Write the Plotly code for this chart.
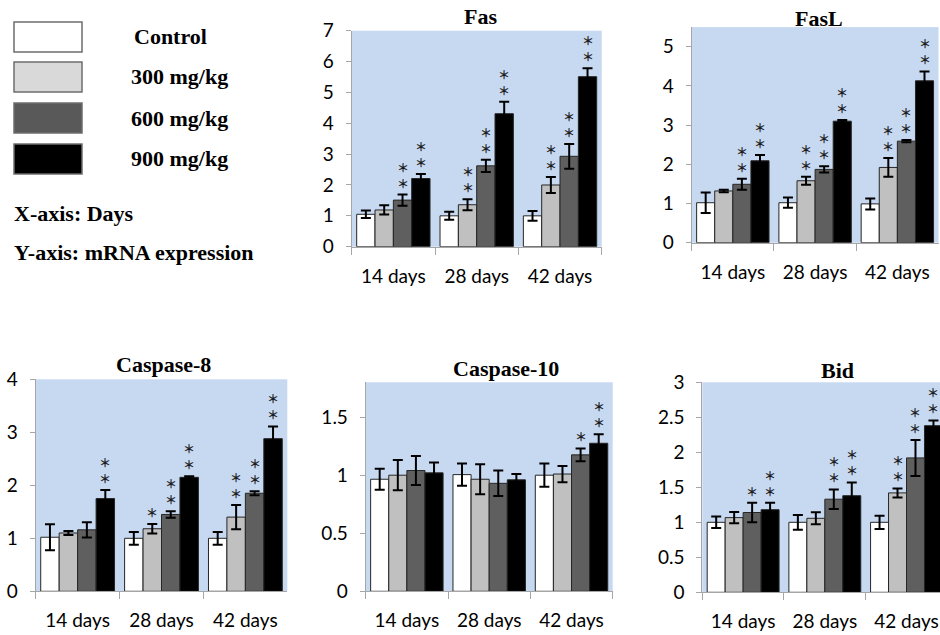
import plotly.graph_objects as go

W, H = 940, 635

days = ["14 days", "28 days", "42 days"]
groups = ["Control", "300 mg/kg", "600 mg/kg", "900 mg/kg"]
bar_colors = ["#FFFFFF", "#C0C0C0", "#5F5F5F", "#000000"]
legend_colors = ["#FFFFFF", "#D9D9D9", "#595959", "#000000"]

# rows: Control, 300, 600, 900 ; columns: 14, 28, 42 days
fas_mean = [[1.05, 1.00, 1.00], [1.19, 1.36, 2.00], [1.51, 2.62, 2.93], [2.21, 4.31, 5.51]]
fas_err = [[0.12, 0.13, 0.16], [0.15, 0.18, 0.26], [0.18, 0.20, 0.40], [0.15, 0.39, 0.27]]
fas_stars = [[0, 0, 0], [0, 2, 2], [2, 2, 2], [2, 2, 2]]

fasl_mean = [[1.02, 1.02, 0.99], [1.32, 1.58, 1.92], [1.49, 1.87, 2.59], [2.09, 3.10, 4.13]]
fasl_err = [[0.26, 0.13, 0.14], [0.03, 0.10, 0.24], [0.14, 0.08, 0.03], [0.15, 0.03, 0.24]]
fasl_stars = [[0, 0, 0], [0, 2, 2], [2, 2, 2], [2, 2, 2]]

casp8_mean = [[1.02, 1.00, 1.00], [1.10, 1.18, 1.40], [1.16, 1.45, 1.85], [1.75, 2.15, 2.88]]
casp8_err = [[0.245, 0.12, 0.12], [0.04, 0.09, 0.23], [0.145, 0.06, 0.04], [0.16, 0.02, 0.23]]
casp8_stars = [[0, 0, 0], [0, 1, 2], [0, 2, 2], [2, 2, 2]]

casp10_mean = [[0.965, 1.005, 1.00], [1.00, 0.965, 1.01], [1.04, 0.93, 1.175], [1.02, 0.96, 1.275]]
casp10_err = [[0.09, 0.096, 0.10], [0.13, 0.13, 0.07], [0.125, 0.11, 0.055], [0.09, 0.05, 0.077]]
casp10_stars = [[0, 0, 0], [0, 0, 0], [0, 0, 1], [0, 0, 2]]

bid_mean = [[1.00, 1.00, 1.00], [1.067, 1.057, 1.42], [1.14, 1.33, 1.92], [1.18, 1.38, 2.38]]
bid_err = [[0.083, 0.105, 0.095], [0.08, 0.086, 0.064], [0.14, 0.14, 0.257], [0.10, 0.19, 0.076]]
bid_stars = [[0, 0, 0], [0, 0, 2], [1, 2, 2], [2, 2, 2]]

# layout (pixel boxes: left, right, top, bottom) -- positions only
panels = [
    dict(title="Fas", mean=fas_mean, err=fas_err, stars=fas_stars,
         box=(351.7, 601.7, 30.7, 246.7), yr=7, dtick=1, xr=2.5, tx=480.5, ty=16.5),
    dict(title="FasL", mean=fasl_mean, err=fasl_err, stars=fasl_stars,
         box=(691.7, 938.5, 27.1, 242.7), yr=5.5, dtick=1, xr=2.5, tx=819, ty=18.5),
    dict(title="Caspase-8", mean=casp8_mean, err=casp8_err, stars=casp8_stars,
         box=(35.7, 287.3, 379.3, 591.3), yr=4, dtick=1, xr=2.5, tx=163.7, ty=364),
    dict(title="Caspase-10", mean=casp10_mean, err=casp10_err, stars=casp10_stars,
         box=(365.7, 612.7, 382.3, 591.3), yr=1.8, dtick=0.5, xr=2.5, tx=506, ty=368),
    dict(title="Bid", mean=bid_mean, err=bid_err, stars=bid_stars,
         box=(702.3, 940, 382.3, 592.3), yr=3, dtick=0.5, xr=2.41, tx=837, ty=370),
]

BARGAP = 0.12
bar_w = (1 - BARGAP) / len(groups)
offsets = [(-(1 - BARGAP) / 2 + bar_w * (k + 0.5)) for k in range(len(groups))]

fig = go.Figure()
annotations = []
AX_COL = "#A6A6A6"
TICK_FONT = dict(family="Lato", size=19, color="#000000")
TITLE_FONT = dict(family="Liberation Serif", size=22, color="#000000")
STAR_FONT = dict(family="Noto Sans CJK SC", size=12, color="#1E1E1E", weight="bold")

layout_axes = {}
for i, p in enumerate(panels):
    n = "" if i == 0 else str(i + 1)
    xa, ya = "x" + n, "y" + n
    for k, g in enumerate(groups):
        fig.add_trace(go.Bar(
            x=days, y=p["mean"][k], name=g, xaxis=xa, yaxis=ya,
            marker=dict(color=bar_colors[k], line=dict(color="#262626", width=1)),
            error_y=dict(type="data", array=p["err"][k], visible=True,
                         color="#000000", thickness=2, width=5),
            showlegend=False,
        ))
        for j in range(len(days)):
            ns = p["stars"][k][j]
            if ns:
                annotations.append(dict(
                    x=j + offsets[k], y=p["mean"][k][j] + p["err"][k][j],
                    xref=xa, yref=ya, text="<br>".join(["＊"] * ns), showarrow=False,
                    xanchor="center", yanchor="bottom", yshift=2,
                    borderpad=0, font=STAR_FONT))
    l, r, t, b = p["box"]
    layout_axes["xaxis" + n] = dict(
        domain=[l / W, r / W], anchor=ya, type="category",
        range=[-0.5, p["xr"]], showline=True, linecolor=AX_COL, linewidth=1,
        ticks="outside", tickson="boundaries", ticklen=7, tickcolor=AX_COL,
        tickfont=TICK_FONT, showgrid=False, zeroline=False, fixedrange=True,
        ticklabelstandoff=12, automargin=False,
    )
    layout_axes["yaxis" + n] = dict(
        domain=[1 - b / H, 1 - t / H], anchor=xa,
        range=[0, p["yr"]], dtick=p["dtick"], tick0=0,
        showline=True, linecolor=AX_COL, linewidth=1,
        ticks="outside", ticklen=5, tickcolor=AX_COL,
        tickfont=TICK_FONT, showgrid=False, zeroline=False, fixedrange=True,
        ticklabelstandoff=8, automargin=False,
    )
    annotations.append(dict(
        x=p["tx"] / W, y=1 - p["ty"] / H, xref="paper", yref="paper",
        text="<b>" + p["title"] + "</b>", showarrow=False,
        xanchor="center", yanchor="middle", font=TITLE_FONT))

# legend block
shapes = []
legend_boxes_y = [(22, 52), (62, 92), (103, 133), (144, 174)]
legend_text_x = [132, 129, 129, 129]
LEG_FONT = dict(family="Liberation Serif", size=22, color="#000000")
for k, g in enumerate(groups):
    y0, y1 = legend_boxes_y[k]
    shapes.append(dict(type="rect", xref="paper", yref="paper",
                       x0=14 / W, x1=82 / W, y0=1 - y1 / H, y1=1 - y0 / H,
                       fillcolor=legend_colors[k], line=dict(color="#6E6E6E", width=1.5)))
    annotations.append(dict(
        x=legend_text_x[k] / W, y=1 - ((y0 + y1) / 2) / H, xref="paper", yref="paper",
        text="<b>" + g + "</b>", showarrow=False, xanchor="left", yanchor="middle",
        font=LEG_FONT))

for txt, yy in [("X-axis: Days", 213), ("Y-axis: mRNA expression", 252)]:
    annotations.append(dict(
        x=12 / W, y=1 - yy / H, xref="paper", yref="paper",
        text="<b>" + txt + "</b>", showarrow=False, xanchor="left", yanchor="middle",
        font=LEG_FONT))

fig.update_layout(
    template="none",
    width=W, height=H,
    margin=dict(l=0, r=0, t=0, b=0, pad=0, autoexpand=False),
    paper_bgcolor="#FFFFFF", plot_bgcolor="#C6D9F1",
    barmode="group", bargap=BARGAP, bargroupgap=0,
    showlegend=False,
    annotations=annotations, shapes=shapes,
    **layout_axes,
)

fig.write_html(
    "out.html",
    config=dict(displayModeBar=False),
    post_script="document.body.style.margin='0';document.body.style.overflow='hidden';",
)
